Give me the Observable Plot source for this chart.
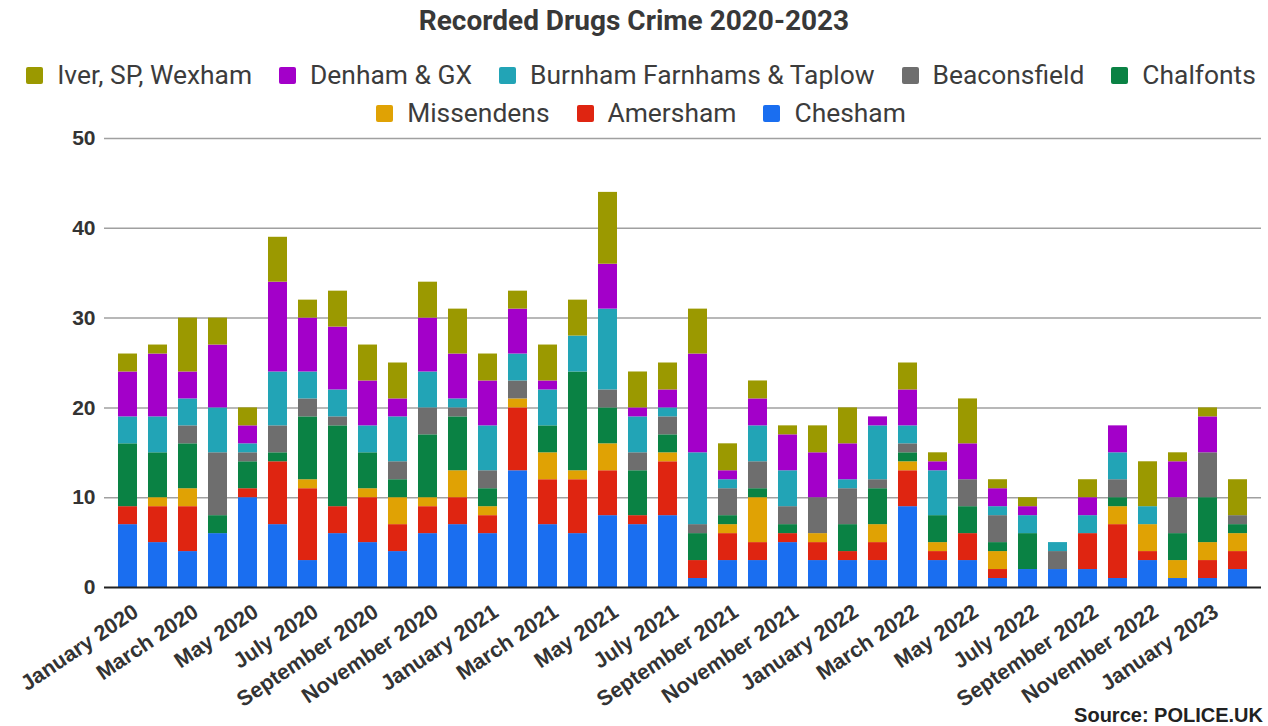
<!DOCTYPE html>
<html><head><meta charset="utf-8">
<script src="https://cdn.jsdelivr.net/npm/d3@7"></script>
<script src="https://cdn.jsdelivr.net/npm/@observablehq/plot@0.6"></script>
<style>
body{margin:0;background:#fff;width:1268px;height:726px;overflow:hidden;font-family:Roboto,"Liberation Sans",sans-serif;position:relative}
#title{position:absolute;top:0;left:0;width:1268px;text-align:center;font:bold 28px Roboto;line-height:42px;color:#383838;}
.row{position:absolute;left:14px;width:1254px;display:flex;justify-content:center;gap:27px;font:26.4px Roboto;color:#3c3c3c;line-height:32px}
.item{display:flex;align-items:center;}
.sw{width:17px;height:17px;margin-right:14px;border-radius:2px}
#chart{position:absolute;top:120px;left:0}
#source{position:absolute;right:5px;top:705px;font:bold 20px "Liberation Sans",Arial;line-height:20px;color:#222}
</style></head>
<body>
<div id="title">Recorded Drugs Crime 2020-2023</div>
<div class="row" id="row1" style="top:59px"></div>
<div class="row" id="row2" style="top:97px"></div>
<div id="chart"></div>
<div id="source">Source: POLICE.UK</div>
<script>
const months = ["January 2020","February 2020","March 2020","April 2020","May 2020","June 2020","July 2020","August 2020","September 2020","October 2020","November 2020","December 2020",
"January 2021","February 2021","March 2021","April 2021","May 2021","June 2021","July 2021","August 2021","September 2021","October 2021","November 2021","December 2021",
"January 2022","February 2022","March 2022","April 2022","May 2022","June 2022","July 2022","August 2022","September 2022","October 2022","November 2022","December 2022",
"January 2023","February 2023"];

const chesham      = [7,5,4,6,10,7,3,6,5,4,6,7, 6,13,7,6,8,7,8,1,3,3,5,3, 3,3,9,3,3,1,2,2,2,1,3,1, 1,2];
const amersham     = [2,4,5,0,1,7,8,3,5,3,3,3, 2,7,5,6,5,1,6,2,3,2,1,2, 1,2,4,1,3,1,0,0,4,6,1,0, 2,2];
const missendens   = [0,1,2,0,0,0,1,0,1,3,1,3, 1,1,3,1,3,0,1,0,1,5,0,1, 0,2,1,1,0,2,0,0,0,2,3,2, 2,2];
const chalfonts    = [7,5,5,2,3,1,7,9,4,2,7,6, 2,0,3,11,4,5,2,3,1,1,1,0, 3,4,1,3,3,1,4,0,0,1,0,3, 5,1];
const beaconsfield = [0,0,2,7,1,3,2,1,0,2,3,1, 2,2,0,0,2,2,2,1,3,3,2,4, 4,1,1,0,3,3,0,2,0,2,0,4, 5,1];
const burnham      = [3,4,3,5,1,6,3,3,3,5,4,1, 5,3,4,4,9,4,1,8,1,4,4,0, 1,6,2,5,0,1,2,1,2,3,2,0, 0,0];
const denham       = [5,7,3,7,2,10,6,7,5,2,6,5, 5,5,1,0,5,1,2,11,1,3,4,5, 4,1,4,1,4,2,1,0,2,3,0,4, 4,0];
const iver         = [2,1,6,3,2,5,2,4,4,4,4,5, 3,2,4,4,8,4,3,5,3,2,1,3, 4,0,3,1,5,1,1,0,2,0,5,1, 1,4];

const legendNames = ["Iver, SP, Wexham","Denham & GX","Burnham Farnhams & Taplow","Beaconsfield","Chalfonts","Missendens","Amersham","Chesham"];
const legendColors = ["#9b9900","#a300c9","#22a4b6","#6e6e6e","#0a8244","#e0a204","#df2511","#1a6ef0"];
const yTicks = [0,10,20,30,40,50];
const xTicks = months.filter((d,i)=>i%2===0);

// stack bottom-up
const stackOrder = [["Chesham",chesham],["Amersham",amersham],["Missendens",missendens],["Chalfonts",chalfonts],
  ["Beaconsfield",beaconsfield],["Burnham Farnhams & Taplow",burnham],["Denham & GX",denham],["Iver, SP, Wexham",iver]];
const data = [];
for (const [name, vals] of stackOrder) vals.forEach((v,i)=>data.push({month:months[i], series:name, value:v}));

// legend
legendNames.forEach((n,i)=>{
  const it = document.createElement("div"); it.className="item";
  it.innerHTML = `<span class="sw" style="background:${legendColors[i]}"></span><span>${n.replace(/&/g,"&amp;")}</span>`;
  document.getElementById(i<5?"row1":"row2").appendChild(it);
});

const chart = Plot.plot({
  width:1268, height:580, marginTop:18, marginBottom:113, marginLeft:104, marginRight:7,
  x:{domain:months, padding:0.37},
  y:{domain:[0,50]},
  color:{domain:legendNames, range:legendColors},
  style:{fontFamily:"'Liberation Sans', Arial, sans-serif", color:"#333", background:"transparent", overflow:"visible"},
  marks:[
    Plot.ruleY(yTicks.slice(1), {stroke:"#a0a0a0", strokeWidth:1.5}),
    Plot.barY(data, {x:"month", y:"value", fill:"series"}),
    Plot.ruleY([0], {stroke:"#222", strokeWidth:2}),
    Plot.axisY({ticks:yTicks, tickSize:0, tickPadding:9, label:null, fontSize:21, fontWeight:"bold", fill:"#333"}),
    Plot.axisX({ticks:xTicks, tickRotate:-34, tickSize:0, tickPadding:22, dx:8, label:null, fontSize:21.5, fontWeight:"bold", fill:"#333"})
  ]
});
document.getElementById("chart").appendChild(chart);
</script>
</body></html>
